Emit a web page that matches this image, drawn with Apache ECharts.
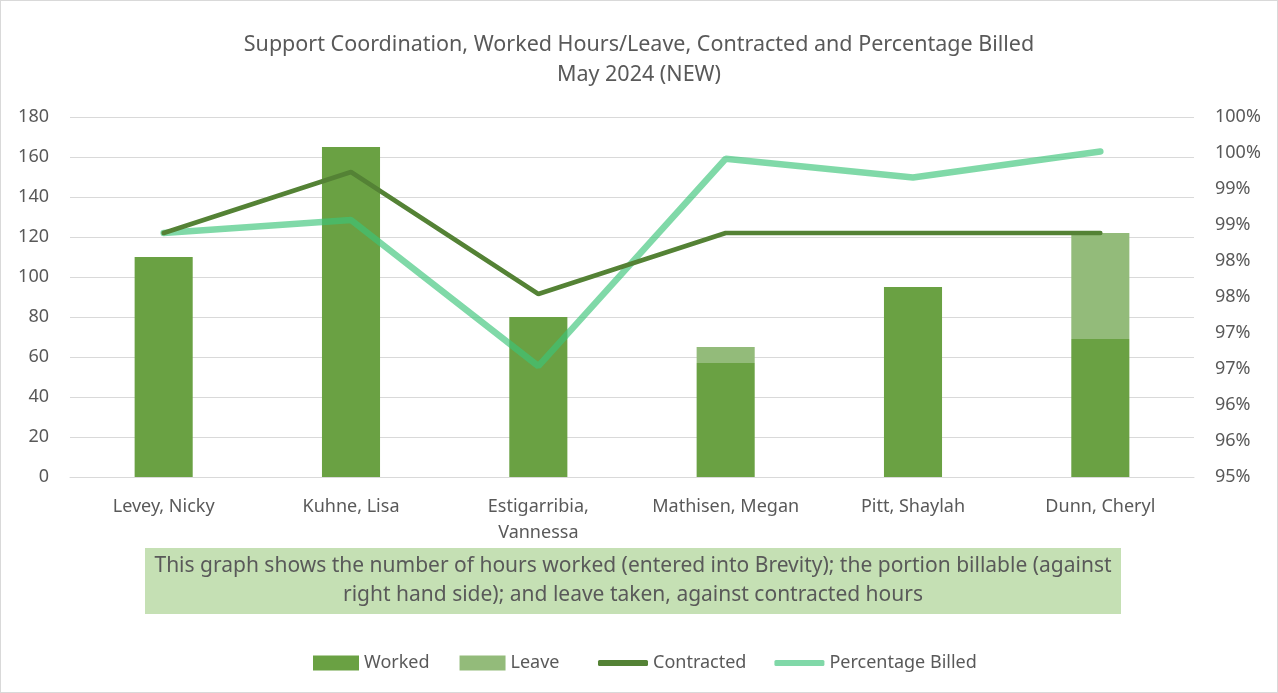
<!DOCTYPE html>
<html>
<head>
<meta charset="utf-8">
<title>Support Coordination</title>
<script src="https://cdn.jsdelivr.net/npm/echarts@6/dist/echarts.min.js"></script>
<style>
  html, body { margin: 0; padding: 0; background: #fff; }
  #main { width: 1278px; height: 693px; box-sizing: border-box; border: 1px solid #d9d9d9; }
</style>
</head>
<body>
<div id="main"></div>
<script>
// data
var staff = ['Levey, Nicky', 'Kuhne, Lisa', 'Estigarribia,\nVannessa', 'Mathisen, Megan', 'Pitt, Shaylah', 'Dunn, Cheryl'];
var worked = [110, 165, 80, 57, 95, 69];
var leave = [0, 0, 0, 8, 0, 53];
var contracted = [122, 152.5, 91.5, 122, 122, 122];
var pctBilled = [98.39, 98.57, 96.54, 99.42, 99.16, 99.52];

var font = 'Noto Sans';
var grey = '#595959';

var myChart = echarts.init(document.getElementById('main'));

option = {
	title: {
		text: 'Support Coordination, Worked Hours/Leave, Contracted and Percentage Billed\nMay 2024 (NEW)',
		left: 'center',
		top: 24,
		textStyle: {
			color: grey,
			fontFamily: font,
			fontSize: 21.5,
			fontWeight: 400,
			lineHeight: 30
		}
	},
	legend: [{
		// bars
		left: 307,
		top: 648,
		itemWidth: 46,
		itemHeight: 15,
		itemGap: 30,
		icon: 'rect',
		textStyle: { color: grey, fontFamily: font, fontSize: 18 },
		data: ['Worked', 'Leave']
	}, {
		// lines
		left: 592,
		top: 648,
		itemWidth: 50,
		itemHeight: 6,
		itemGap: 28,
		icon: 'roundRect',
		textStyle: { color: grey, fontFamily: font, fontSize: 18 },
		data: ['Contracted', 'Percentage Billed']
	}],
	grid: {
		left: 69,
		right: 83,
		top: 116,
		height: 360
	},
	xAxis: {
		type: 'category',
		data: staff,
		axisTick: { show: false },
		axisLine: { lineStyle: { color: '#d9d9d9' } },
		axisLabel: {
			interval: 0,
			hideOverlap: false,
			color: grey,
			fontFamily: font,
			fontSize: 18,
			margin: 17,
			lineHeight: 26
		}
	},
	yAxis: [{
		type: 'value',
		min: 0,
		max: 180,
		interval: 20,
		axisLine: { show: false },
		axisTick: { show: false },
		axisLabel: { color: grey, fontFamily: font, fontSize: 18, margin: 21 },
		splitLine: { lineStyle: { color: '#d9d9d9', width: 1 } }
	}, {
		type: 'value',
		min: 95,
		max: 100,
		interval: 0.5,
		axisLine: { show: false },
		axisTick: { show: false },
		splitLine: { show: false },
		axisLabel: {
			color: grey,
			fontFamily: font,
			fontSize: 18,
			margin: 21,
			formatter: function (v) { return Math.round(v) + '%'; }
		}
	}],
	graphic: [{
		type: 'rect',
		left: 144,
		top: 547,
		shape: { width: 976, height: 66 },
		style: { fill: '#c5e0b4' }
	}, {
		type: 'text',
		x: 632,
		y: 551,
		style: {
			text: 'This graph shows the number of hours worked (entered into Brevity); the portion billable (against\nright hand side); and leave taken, against contracted hours',
			fill: grey,
			font: '21px "Noto Sans"',
			lineHeight: 29,
			align: 'center'
		}
	}],
	series: [{
		name: 'Worked',
		type: 'bar',
		stack: 'hours',
		barWidth: '31%',
		itemStyle: { color: '#6aa143' },
		data: worked
	}, {
		name: 'Leave',
		type: 'bar',
		stack: 'hours',
		itemStyle: { color: '#93bb7a' },
		data: leave
	}, {
		name: 'Percentage Billed',
		type: 'line',
		yAxisIndex: 1,
		symbol: 'none',
		z: 3,
		itemStyle: { color: '#80d8a8' },
		lineStyle: { color: '#3cc57a', width: 6.5, opacity: 0.65, cap: 'round' },
		data: pctBilled
	}, {
		name: 'Contracted',
		type: 'line',
		symbol: 'none',
		z: 4,
		itemStyle: { color: '#548235' },
		lineStyle: { color: '#548235', width: 4.5, cap: 'round' },
		data: contracted
	}]
};

myChart.setOption(option);
</script>
</body>
</html>
